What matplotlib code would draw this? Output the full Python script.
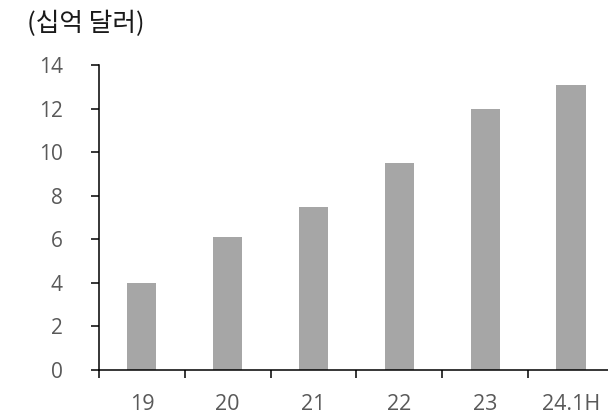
import matplotlib.pyplot as plt
from matplotlib.ticker import FixedLocator, NullFormatter

plt.rcParams['font.family'] = ['Open Sans', 'Noto Sans CJK KR', 'DejaVu Sans']

# Annual values, billions of dollars
categories = ['19', '20', '21', '22', '23', '24.1H']
values = [4.0, 6.1, 7.5, 9.5, 12.0, 13.1]
y_ticks = [0, 2, 4, 6, 8, 10, 12, 14]

fig = plt.figure(figsize=(6.08, 4.17), dpi=100)
ax = fig.add_axes([0.1628, 0.1127, 0.847, 0.7307])

x = list(range(len(categories)))
ax.bar(x, values, width=0.34, color='#a6a6a6', zorder=2)

ax.set_xlim(-0.5, len(categories) - 0.5)
ax.set_ylim(0, 14)

# y axis
ax.set_yticks(y_ticks)
ax.set_yticklabels([str(t) for t in y_ticks])
ax.tick_params(axis='y', length=6, width=1.1, direction='out', pad=20,
               labelsize=15, labelcolor='#595959', color='black')

# x axis: tick marks between categories, labels at category centres
ax.xaxis.set_major_locator(FixedLocator([i - 0.5 for i in range(len(categories) + 1)]))
ax.xaxis.set_major_formatter(NullFormatter())
ax.xaxis.set_minor_locator(FixedLocator(x))
ax.set_xticklabels(categories, minor=True)
ax.tick_params(axis='x', which='major', length=6, width=1.1, direction='out', color='black')
ax.tick_params(axis='x', which='minor', length=0, pad=17,
               labelsize=15.5, labelcolor='#595959')

for side in ('top', 'right'):
    ax.spines[side].set_visible(False)
for side in ('left', 'bottom'):
    ax.spines[side].set_linewidth(1.1)
    ax.spines[side].set_color('black')

fig.text(0.044, 0.942, '(십억 달러)', fontsize=18.5, color='#1a1a1a',
         family=['Noto Sans CJK KR', 'DejaVu Sans'], va='center', ha='left')

fig.savefig('out.png', dpi=100)
